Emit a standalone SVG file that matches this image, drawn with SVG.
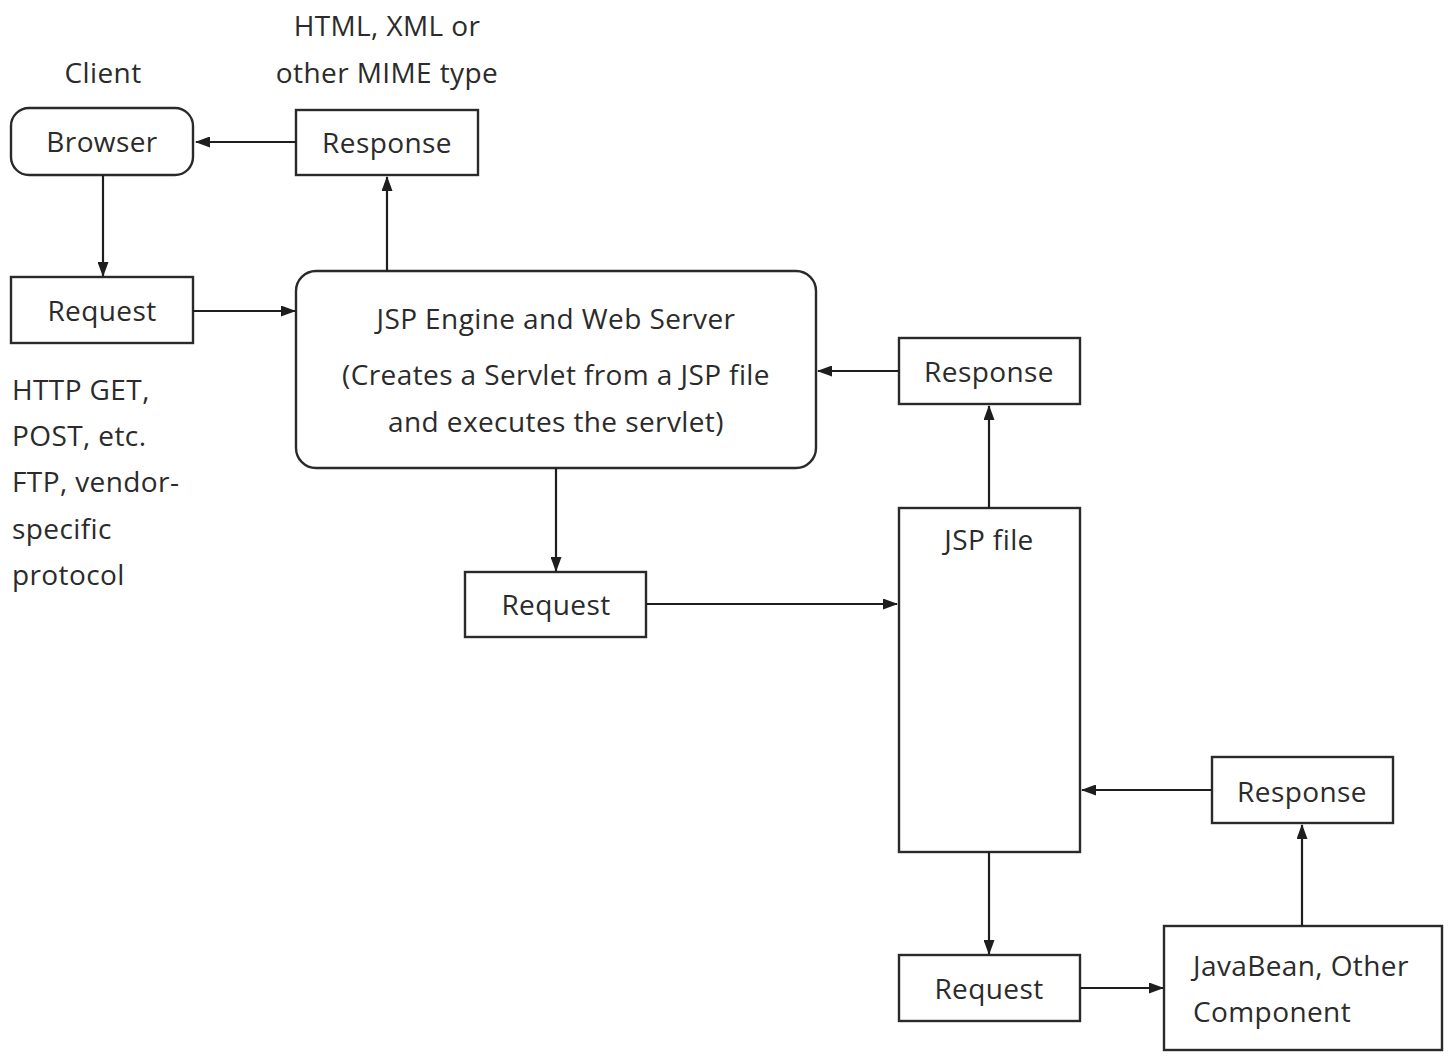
<svg xmlns="http://www.w3.org/2000/svg" width="1453" height="1057" viewBox="0 0 1453 1057">
  <style>
    .box { fill: #fff; stroke: #2a2a2a; stroke-width: 2.4; }
    .edge { fill: none; stroke: #1e1e1e; stroke-width: 2.2; }
    text { font-family: "Open Sans", "DejaVu Sans", sans-serif; font-size: 28px; letter-spacing: 0.4px; fill: #2b2b2b; }
    .c { text-anchor: middle; }
  </style>
  <defs>
    <marker id="arrow" markerWidth="15" markerHeight="11" refX="14" refY="5.5" orient="auto" markerUnits="userSpaceOnUse">
      <path d="M0,0 L15,5.5 L0,11 z" fill="#1e1e1e"/>
    </marker>
  </defs>
  <rect width="1453" height="1057" fill="#fff"/>

  <!-- free labels -->
  <text class="c" x="103" y="83">Client</text>
  <text class="c" x="387" y="36">HTML, XML or</text>
  <text class="c" x="387" y="83">other MIME type</text>
  <text x="12" y="400">HTTP GET,</text>
  <text x="12" y="446">POST, etc.</text>
  <text x="12" y="492">FTP, vendor-</text>
  <text x="12" y="539">specific</text>
  <text x="12" y="585">protocol</text>

  <g id="browser">
    <rect class="box" x="11" y="108" width="182" height="67" rx="18"/>
    <text class="c" x="102" y="152">Browser</text>
  </g>
  <g id="response-client">
    <rect class="box" x="296" y="110" width="182" height="65"/>
    <text class="c" x="387" y="153">Response</text>
  </g>
  <g id="request-client">
    <rect class="box" x="11" y="277" width="182" height="66"/>
    <text class="c" x="102" y="321">Request</text>
  </g>
  <g id="jsp-engine">
    <rect class="box" x="296" y="271" width="520" height="197" rx="20"/>
    <text class="c" x="556" y="329">JSP Engine and Web Server</text>
    <text class="c" x="556" y="385">(Creates a Servlet from a JSP file</text>
    <text class="c" x="556" y="432">and executes the servlet)</text>
  </g>
  <g id="request-engine">
    <rect class="box" x="465" y="572" width="181" height="65"/>
    <text class="c" x="556" y="615">Request</text>
  </g>
  <g id="response-jsp">
    <rect class="box" x="899" y="338" width="181" height="66"/>
    <text class="c" x="989" y="382">Response</text>
  </g>
  <g id="jsp-file">
    <rect class="box" x="899" y="508" width="181" height="344"/>
    <text class="c" x="989" y="550">JSP file</text>
  </g>
  <g id="response-bean">
    <rect class="box" x="1212" y="757" width="181" height="66"/>
    <text class="c" x="1302" y="802">Response</text>
  </g>
  <g id="request-jsp">
    <rect class="box" x="899" y="955" width="181" height="66"/>
    <text class="c" x="989" y="999">Request</text>
  </g>
  <g id="javabean">
    <rect class="box" x="1164" y="926" width="278" height="124"/>
    <text x="1193" y="976">JavaBean, Other</text>
    <text x="1193" y="1022">Component</text>
  </g>

  <g id="connectors">
    <line class="edge" x1="296" y1="142" x2="196" y2="142" marker-end="url(#arrow)"/>
    <line class="edge" x1="103" y1="175" x2="103" y2="276" marker-end="url(#arrow)"/>
    <line class="edge" x1="193" y1="311" x2="295" y2="311" marker-end="url(#arrow)"/>
    <line class="edge" x1="387" y1="271" x2="387" y2="177" marker-end="url(#arrow)"/>
    <line class="edge" x1="556" y1="468" x2="556" y2="571" marker-end="url(#arrow)"/>
    <line class="edge" x1="646" y1="604" x2="897" y2="604" marker-end="url(#arrow)"/>
    <line class="edge" x1="899" y1="371" x2="818" y2="371" marker-end="url(#arrow)"/>
    <line class="edge" x1="989" y1="508" x2="989" y2="406" marker-end="url(#arrow)"/>
    <line class="edge" x1="1212" y1="790" x2="1082" y2="790" marker-end="url(#arrow)"/>
    <line class="edge" x1="989" y1="852" x2="989" y2="954" marker-end="url(#arrow)"/>
    <line class="edge" x1="1080" y1="988" x2="1163" y2="988" marker-end="url(#arrow)"/>
    <line class="edge" x1="1302" y1="926" x2="1302" y2="825" marker-end="url(#arrow)"/>
  </g>
</svg>
